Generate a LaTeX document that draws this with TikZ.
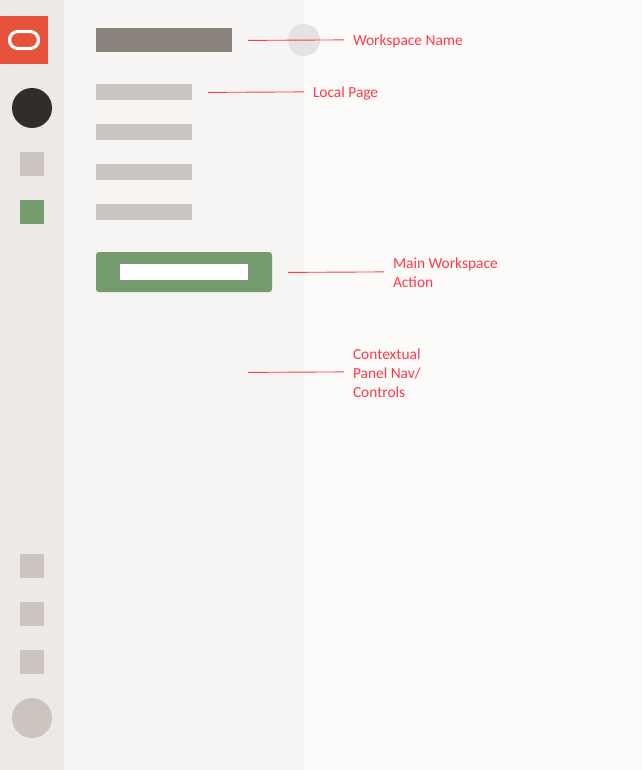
\documentclass[tikz,border=0pt]{standalone}
\usepackage{fontspec}
\setmainfont{Carlito}
\definecolor{railgray}{HTML}{EDE9E6}
\definecolor{panelgray}{HTML}{F6F5F3}
\definecolor{pagewhite}{HTML}{FCFBFA}
\definecolor{logored}{HTML}{E5533C}
\definecolor{barlight}{HTML}{CCC5BF}
\definecolor{bardark}{HTML}{8B847D}
\definecolor{avatardark}{HTML}{312D2A}
\definecolor{actiongreen}{HTML}{759C6F}
\definecolor{notered}{HTML}{FF3B47}
\begin{document}
\begin{tikzpicture}[x=1pt,y=-1pt,
		every node/.style={inner sep=0,outer sep=0,draw=none},
		box/.style={minimum width=#1,anchor=north west},
		navbar/.style={box=96pt,minimum height=16pt,fill=barlight},
		navicon/.style={box=24pt,minimum height=24pt,fill=barlight},
		avatar/.style={circle,minimum size=40pt},
		note/.style={anchor=west,align=left,text=notered,font=\fontsize{15.4}{19}\selectfont},
		leader/.style={draw=notered,line width=0.9pt}]
		\useasboundingbox (0,0) rectangle (643,770);
		\fill[pagewhite] (0,0) rectangle (643,770);
		\fill[panelgray] (64,0) rectangle (304,770);
		\fill[railgray] (0,0) rectangle (64,770);
		% rail
		\node[box=48pt,minimum height=48pt,fill=logored] (logo) at (0,16) {};
		\node[draw=white,line width=3.2pt,rounded corners=8.5pt,minimum width=29pt,minimum height=17pt] (logoring) at (logo.center) {};
		\node[avatar,fill=avatardark] (user) at (32,108) {};
		\node[navicon] (rail1) at (20,152) {};
		\node[navicon,fill=actiongreen] (rail2) at (20,200) {};
		\node[navicon] (rail3) at (20,554) {};
		\node[navicon] (rail4) at (20,602) {};
		\node[navicon] (rail5) at (20,650) {};
		\node[avatar,fill=barlight] (help) at (32,718) {};
		% panel
		\node[box=136pt,minimum height=24pt,fill=bardark] (title) at (96,28) {};
		\node[navbar] (page1) at (96,84) {};
		\node[navbar] (page2) at (96,124) {};
		\node[navbar] (page3) at (96,164) {};
		\node[navbar] (page4) at (96,204) {};
		\node[box=176pt,minimum height=40pt,fill=actiongreen,rounded corners=3pt] (action) at (96,252) {};
		\node[box=128pt,minimum height=16pt,fill=white] (actiontext) at (120,264) {};
		\node[circle,minimum size=32pt,fill=black!10!pagewhite,opacity=0.95] (toggle) at (304,40) {};
		% notes
		\node[note] (wsname) at (353,41) {Workspace Name};
		\node[note] (local) at (313,93) {Local Page};
		\node[note] (main) at (393,273) {Main Workspace\\Action};
		\node[note] (ctx) at (353,373) {Contextual\\Panel Nav/\\Controls};
		\coordinate (a) at (248,40.4);
		\coordinate (b) at (344,39.9);
		\coordinate (c) at (208,92.4);
		\coordinate (d) at (304,91.9);
		\coordinate (e) at (288,272.4);
		\coordinate (f) at (384,271.9);
		\coordinate (g) at (248,372.4);
		\coordinate (h) at (344,371.9);
		\draw[leader] (a)--(b); \draw[leader] (c)--(d);
		\draw[leader] (e)--(f); \draw[leader] (g)--(h);
	\end{tikzpicture}
\end{document}
